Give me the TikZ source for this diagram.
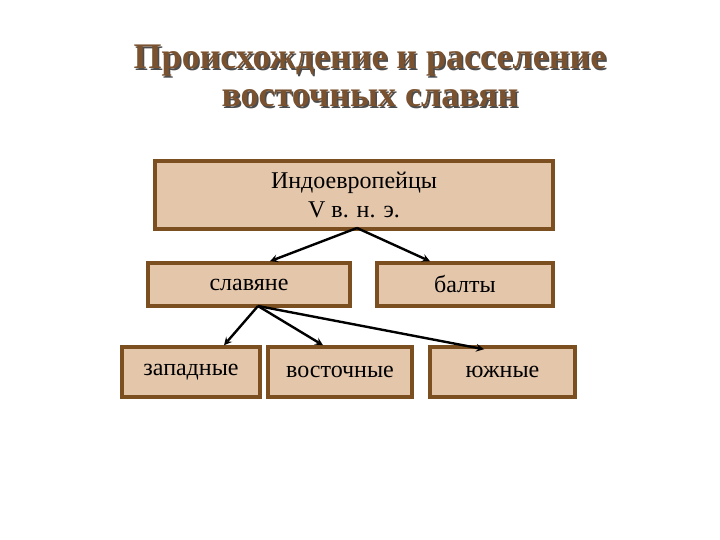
\documentclass[tikz,border=0pt]{standalone}
\usepackage{fontspec}
\setmainfont{Liberation Serif}
\definecolor{bord}{HTML}{7B4F1F}
\definecolor{boxfill}{HTML}{E4C6AB}
\definecolor{ttl}{HTML}{7A5230}
\begin{document}
\begin{tikzpicture}[x=1pt,y=-1pt,
  bx/.style={draw=bord,line width=3.5pt,fill=boxfill,inner sep=0pt,font=\fontsize{24}{29}\selectfont,align=center},
  tt/.style={font=\bfseries\fontsize{36}{38}\selectfont,align=center},
  arr/.style={-stealth,line width=2.4pt,black}]
\useasboundingbox (0,0) rectangle (720,540);
\fill[white] (0,0) rectangle (720,540);
\node (shadow)[tt,text=black!70] at (371.5,77.5) {Происхождение и расселение\\восточных славян};
\node (title)[tt,text=ttl] at (370,76) {Происхождение и расселение\\восточных славян};
\node (ie)[bx,minimum width=398pt,minimum height=68pt] at (354,195) {Индоевропейцы\\V в. н. э.};
\node (sl)[bx,minimum width=202pt,minimum height=43pt] at (249,284.5) {славяне};
\node (ba)[bx,minimum width=176pt,minimum height=43pt] at (465,284.5) {балты};
\node (za)[bx,minimum width=138pt,minimum height=50pt] at (191,372) {западные};
\node (vo)[bx,minimum width=144pt,minimum height=50pt] at (340,372) {восточные};
\node (yu)[bx,minimum width=145pt,minimum height=50pt] at (502.5,372) {южные};
\coordinate (p1) at (357,228);
\coordinate (p2) at (258,306);
\draw[arr] (p1) -- (sl.north -| 270,0);
\draw[arr] (p1) -- (ba.north -| 430,0);
\draw[arr] (p2) -- (za.north -| 224,0);
\draw[arr] (p2) -- (vo.north -| 323,0);
\draw[arr] (p2) -- ([yshift=-4pt]yu.north -| 484,0);
\end{tikzpicture}
\end{document}
